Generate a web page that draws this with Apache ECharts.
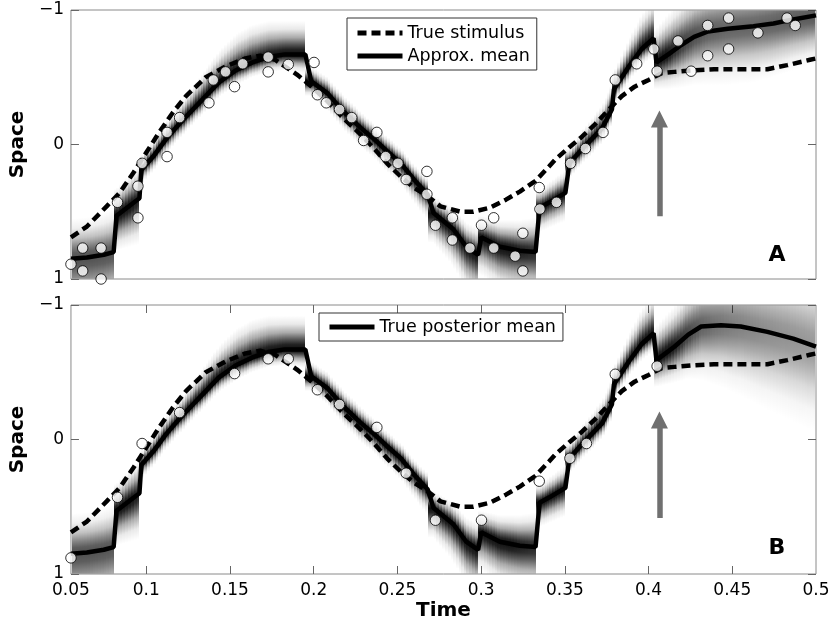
<!DOCTYPE html>
<html>
<head>
<meta charset="utf-8">
<script src="https://cdn.jsdelivr.net/npm/echarts@6/dist/echarts.min.js"></script>
<style>html,body{margin:0;padding:0;background:#fff}#c{width:834px;height:624px}</style>
</head>
<body>
<div id="c"></div>
<script>
// ---------- data ----------
const xTickValues = [0.055, 0.1, 0.15, 0.2, 0.25, 0.3, 0.35, 0.4, 0.45, 0.5];
const xTickLabels = ['0.05', '0.1', '0.15', '0.2', '0.25', '0.3', '0.35', '0.4', '0.45', '0.5'];
const yTickValues = [-1, 0, 1];

const stimulus = [
  [0.055,0.69],[0.0645,0.61],[0.0763,0.46],[0.0840,0.36],[0.0923,0.21],[0.1000,0.06],[0.1077,-0.09],
  [0.1160,-0.24],[0.1237,-0.36],[0.1355,-0.50],[0.1473,-0.58],[0.1592,-0.64],[0.1680,-0.66],[0.1770,-0.63],
  [0.1828,-0.58],[0.1900,-0.52],[0.1988,-0.43],[0.2083,-0.32],[0.2166,-0.21],[0.2284,-0.07],[0.2361,0.03],
  [0.2438,0.14],[0.2521,0.24],[0.2598,0.32],[0.2675,0.38],[0.2757,0.46],[0.2876,0.50],[0.2953,0.50],
  [0.3053,0.47],[0.3148,0.41],[0.3231,0.35],[0.3325,0.27],[0.3408,0.16],[0.3444,0.11],[0.3527,0.02],
  [0.3604,-0.06],[0.3680,-0.15],[0.3763,-0.26],[0.3840,-0.36],[0.3917,-0.43],[0.4000,-0.48],[0.4077,-0.53],
  [0.4154,-0.54],[0.4254,-0.55],[0.4391,-0.56],[0.4550,-0.56],[0.4710,-0.56],[0.4828,-0.59],[0.4964,-0.63],[0.5,-0.64]
];

// posterior mean, common part (both panels) up to t = 0.403
const meanCommon = [
  [0.055,0.85],[0.0645,0.84],[0.0746,0.82],[0.0805,0.80],[0.0822,0.53],[0.0959,0.40],[0.0970,0.19],
  [0.1041,0.09],[0.1118,-0.04],[0.1195,-0.15],[0.1278,-0.26],[0.1355,-0.36],[0.1432,-0.46],[0.1533,-0.55],
  [0.1633,-0.61],[0.1728,-0.65],[0.1828,-0.67],[0.1950,-0.67],[0.1985,-0.47],[0.2083,-0.38],[0.2166,-0.26],
  [0.2284,-0.12],[0.2361,-0.04],[0.2438,0.05],[0.2521,0.14],[0.2598,0.26],[0.2680,0.37],[0.2716,0.51],
  [0.2834,0.63],[0.2911,0.76],[0.2982,0.82],[0.3000,0.69],[0.3112,0.76],[0.3231,0.79],[0.3325,0.80],
  [0.3349,0.47],[0.3408,0.43],[0.3503,0.36],[0.3527,0.14],[0.3621,0.01],[0.3722,-0.12],[0.3781,-0.26],
  [0.3793,-0.41],[0.3882,-0.58],[0.3959,-0.71],[0.4030,-0.79]
];
const meanTailA = [[0.4047,-0.61],[0.4118,-0.67],[0.4195,-0.74],[0.4272,-0.80],[0.4355,-0.84],[0.4473,-0.86],[0.4627,-0.88],[0.4746,-0.90],[0.4864,-0.93],[0.5,-0.96]];
const meanTailB = [[0.4047,-0.59],[0.4154,-0.69],[0.4237,-0.78],[0.4314,-0.84],[0.4432,-0.85],[0.4550,-0.84],[0.4710,-0.80],[0.4864,-0.75],[0.5,-0.69]];

// density spread above (towards -1) and below (towards +1) the mean, per mean point
const spreadUpCommon = [.30,.30,.31,.32,.20,.26,.10,.12,.13,.15,.17,.20,.23,.27,.28,.27,.25,.25,.11,.12,.12,.12,.11,.11,.11,.11,.12,.13,.16,.18,.20,.16,.20,.23,.26,.14,.15,.17,.11,.14,.17,.19,.13,.20,.26,.30];
const spreadDownCommon = [.45,.45,.45,.45,.26,.34,.11,.11,.11,.11,.11,.11,.11,.11,.11,.11,.12,.14,.11,.12,.13,.14,.14,.15,.16,.17,.19,.22,.28,.32,.34,.28,.32,.34,.35,.18,.19,.21,.11,.11,.11,.11,.11,.11,.12,.13];
const spreadUpTailA = [.25,.30,.34,.38,.40,.42,.42,.42,.42,.42];
const spreadDownTailA = [.20,.26,.32,.36,.40,.42,.42,.40,.38,.36];
const spreadUpTailB = [.25,.30,.36,.42,.48,.52,.56,.60,.64];
const spreadDownTailB = [.20,.27,.33,.40,.46,.52,.58,.62,.64];

const obsA = [
  [0.055,0.89],[0.0620,0.77],[0.0620,0.94],[0.0730,0.77],[0.0730,1.00],[0.0828,0.43],[0.0950,0.31],[0.0950,0.545],
  [0.0975,0.14],[0.1124,-0.09],[0.1124,0.09],[0.1199,-0.20],[0.1374,-0.31],[0.1400,-0.48],[0.1473,-0.54],[0.1527,-0.43],
  [0.1576,-0.60],[0.1728,-0.65],[0.1728,-0.54],[0.1848,-0.595],[0.2002,-0.61],[0.2022,-0.37],[0.2075,-0.31],[0.2154,-0.26],
  [0.2227,-0.20],[0.2298,-0.03],[0.2377,-0.09],[0.2430,0.09],[0.2503,0.14],[0.2552,0.26],[0.2676,0.20],[0.2676,0.37],
  [0.2727,0.60],[0.2828,0.545],[0.2828,0.71],[0.2933,0.77],[0.3002,0.60],[0.3075,0.545],[0.3075,0.77],[0.3203,0.83],
  [0.3249,0.66],[0.3249,0.94],[0.3347,0.32],[0.3351,0.48],[0.3450,0.43],[0.3534,0.14],[0.3623,0.03],[0.3728,-0.09],
  [0.3801,-0.48],[0.3929,-0.60],[0.4031,-0.71],[0.4051,-0.545],[0.4176,-0.77],[0.4254,-0.545],[0.4353,-0.885],[0.4353,-0.66],
  [0.4478,-0.94],[0.4478,-0.71],[0.4653,-0.83],[0.4827,-0.94],[0.4876,-0.885]
];
const obsB = [
  [0.055,0.88],[0.0828,0.43],[0.0975,0.03],[0.1199,-0.20],[0.1527,-0.49],[0.1728,-0.60],[0.1848,-0.60],[0.2022,-0.37],
  [0.2154,-0.26],[0.2377,-0.09],[0.2552,0.25],[0.2727,0.60],[0.3002,0.60],[0.3347,0.31],[0.3530,0.14],[0.3629,0.03],
  [0.3801,-0.485],[0.4051,-0.545]
];

const arrowA = [[0.4065, 0.533], [0.4065, -0.19]];
const arrowB = [[0.4065, 0.584], [0.4065, -0.145]];

// ---------- build ----------
const meanA = meanCommon.concat(meanTailA);
const meanB = meanCommon.concat(meanTailB);
const upA = spreadUpCommon.concat(spreadUpTailA), dnA = spreadDownCommon.concat(spreadDownTailA);
const upB = spreadUpCommon.concat(spreadUpTailB), dnB = spreadDownCommon.concat(spreadDownTailB);

function shadeStrips(mean, up, dn) {
  const out = [];
  for (let i = 0; i < mean.length - 1; i++) {
    const a = mean[i], b = mean[i + 1];
    if (b[0] - a[0] < 0.004) {
      out.push([a[0], b[0], b[1], b[1], up[i + 1], up[i + 1], dn[i + 1], dn[i + 1]]);
    } else {
      out.push([a[0], b[0], a[1], b[1], up[i], up[i + 1], dn[i], dn[i + 1]]);
    }
  }
  return out;
}

const PROFILE = [[1, 0], [0.75, 0.09], [0.5, 0.35], [0.3, 0.69], [0.15, 0.91], [0, 1]];
function renderShade(params, api) {
  const t0 = api.value(0), t1 = api.value(1), y0 = api.value(2), y1 = api.value(3);
  const u0 = api.value(4), u1 = api.value(5), d0 = api.value(6), d1 = api.value(7);
  const cs = params.coordSys;
  const p0 = api.coord([t0, y0]), p1 = api.coord([t1, y1]);
  const w = p1[0] - p0[0];
  const n = Math.max(1, Math.ceil(w / 3));
  const children = [];
  for (let j = 0; j < n; j++) {
    const f = (j + 0.5) / n;
    const t = t0 + (t1 - t0) * f, y = y0 + (y1 - y0) * f;
    const u = u0 + (u1 - u0) * f, d = d0 + (d1 - d0) * f;
    const top = api.coord([t, y - u])[1], mid = api.coord([t, y])[1], bot = api.coord([t, y + d])[1];
    let xa = Math.round(p0[0] + w * j / n), xb = Math.round(p0[0] + w * (j + 1) / n);
    xa = Math.max(xa, Math.ceil(cs.x + 0.5)); xb = Math.min(xb, Math.floor(cs.x + cs.width - 0.5));
    const yTop = Math.max(top, cs.y + 0.5), yBot = Math.min(bot, cs.y + cs.height - 0.5);
    if (yBot <= yTop || xb <= xa) continue;
    const peak = Math.min(0.95, 0.26 / ((u + d) / 2));
    const c = (mid - top) / (bot - top);
    const stops = [];
    PROFILE.forEach(([uu, g]) => stops.push({ offset: c * (1 - uu), color: 'rgba(0,0,0,' + (peak * g).toFixed(3) + ')' }));
    PROFILE.slice().reverse().slice(1).forEach(([uu, g]) => stops.push({ offset: c + (1 - c) * uu, color: 'rgba(0,0,0,' + (peak * g).toFixed(3) + ')' }));
    children.push({
      type: 'rect',
      shape: { x: xa, y: yTop, width: xb - xa, height: yBot - yTop },
      style: { fill: new echarts.graphic.LinearGradient(0, top, 0, bot, stops, true) }
    });
  }
  return { type: 'group', children: children };
}

const FONT = '"DejaVu Sans", "Liberation Sans", Arial, sans-serif';
const AXIS_GRAY = '#8a8a8a';
const TICK_GRAY = '#666666';

function yAxisDef(grid, pos, withLabels) {
  return {
    type: 'value', gridIndex: grid, position: pos, inverse: true, min: -1, max: 1, interval: 1,
    axisLine: { show: false, onZero: false },
    axisTick: { show: true, inside: true, length: 8, lineStyle: { color: TICK_GRAY, width: 1 } },
    splitLine: { show: false },
    axisLabel: {
      show: withLabels, margin: 7, color: '#000', fontSize: 17, fontFamily: FONT,
      formatter: v => (v < 0 ? '\u2212' + Math.abs(v) : String(v))
    },
    name: withLabels ? 'Space' : '', nameLocation: 'middle', nameGap: 36,
    nameTextStyle: { fontSize: 20, fontWeight: 'bold', color: '#000', fontFamily: FONT }
  };
}
function xAxisDef(grid, pos, ticks, labels) {
  return {
    type: 'value', gridIndex: grid, position: pos, min: 0.055, max: 0.5,
    axisLine: { show: false, onZero: false },
    axisTick: { show: ticks, inside: true, length: 8, lineStyle: { color: TICK_GRAY, width: 1 }, customValues: xTickValues.slice(1, -1) },
    splitLine: { show: false },
    axisLabel: {
      show: labels, margin: 8, color: '#000', fontSize: 17, fontFamily: FONT,
      customValues: xTickValues,
      formatter: v => { const k = xTickValues.findIndex(x => Math.abs(x - v) < 1e-6); return k >= 0 ? xTickLabels[k] : ''; }
    },
    name: labels ? 'Time' : '', nameLocation: 'middle', nameGap: 27,
    nameTextStyle: { fontSize: 20, fontWeight: 'bold', color: '#000', fontFamily: FONT }
  };
}

function panelSeries(xi, yi, mean, up, dn, obs, arrow, meanName) {
  return [
    { type: 'custom', xAxisIndex: xi, yAxisIndex: yi, renderItem: renderShade, data: shadeStrips(mean, up, dn),
      encode: { x: [0, 1], y: [2, 3] }, silent: true, z: 1 },
    { type: 'line', name: 'True stimulus', xAxisIndex: xi, yAxisIndex: yi, data: stimulus, symbol: 'none',
      lineStyle: { color: '#000', width: 4.5, type: [9, 5], cap: 'butt' }, itemStyle: { color: '#000' }, z: 2 },
    { type: 'line', name: meanName, xAxisIndex: xi, yAxisIndex: yi, data: mean, symbol: 'none',
      lineStyle: { color: '#000', width: 4.5 }, itemStyle: { color: '#000' }, z: 3 },
    { type: 'scatter', xAxisIndex: xi, yAxisIndex: yi, data: obs, symbol: 'circle', symbolSize: 10.5, clip: false,
      itemStyle: { color: '#fff', borderColor: '#000', borderWidth: 1 }, z: 4 },
    { type: 'lines', coordinateSystem: 'cartesian2d', xAxisIndex: xi, yAxisIndex: yi,
      data: [{ coords: arrow }], symbol: ['none', 'triangle'], symbolSize: 17,
      lineStyle: { color: '#707070', width: 5.5, opacity: 1 }, itemStyle: { color: '#707070' }, z: 5 }
  ];
}

const legendCommon = {
  orient: 'vertical', itemWidth: 45, itemHeight: 14, itemGap: 3, selectedMode: false,
  backgroundColor: '#fff', borderColor: '#333', borderWidth: 1, borderRadius: 0,
  textStyle: { fontSize: 17.5, fontFamily: FONT, color: '#000', lineHeight: 20 },
  lineStyle: { width: 5 },
  itemStyle: { opacity: 0, color: 'transparent', borderWidth: 0 }
};

const chart = echarts.init(document.getElementById('c'), null, { renderer: 'canvas' });
chart.setOption({
  animation: false,
  backgroundColor: '#fff',
  grid: [
    { left: 64, top: 10, width: 752, height: 269, show: true, borderColor: AXIS_GRAY, borderWidth: 1, backgroundColor: 'transparent' },
    { left: 64, top: 305, width: 752, height: 269, show: true, borderColor: AXIS_GRAY, borderWidth: 1, backgroundColor: 'transparent' }
  ],
  xAxis: [xAxisDef(0, 'bottom', false, false), xAxisDef(1, 'bottom', true, true), xAxisDef(1, 'top', true, false)],
  yAxis: [yAxisDef(0, 'left', true), yAxisDef(0, 'right', false), yAxisDef(1, 'left', true), yAxisDef(1, 'right', false)],
  legend: [
    Object.assign({}, legendCommon, { left: 347, top: 18, padding: [5, 7, 4, 8], data: ['True stimulus', 'Approx. mean'] }),
    Object.assign({}, legendCommon, { left: 319, top: 313, padding: [4, 7, 4, 8], data: ['True posterior mean'] })
  ],
  graphic: [
    { type: 'text', x: 777, y: 255, style: { text: 'A', fontSize: 22, fontWeight: 'bold', fontFamily: FONT, fill: '#000', align: 'center', verticalAlign: 'middle' }, z: 10 },
    { type: 'text', x: 777, y: 548, style: { text: 'B', fontSize: 22, fontWeight: 'bold', fontFamily: FONT, fill: '#000', align: 'center', verticalAlign: 'middle' }, z: 10 }
  ],
  series: [].concat(
    panelSeries(0, 0, meanA, upA, dnA, obsA, arrowA, 'Approx. mean'),
    panelSeries(1, 2, meanB, upB, dnB, obsB, arrowB, 'True posterior mean')
  )
});
</script>
</body>
</html>
